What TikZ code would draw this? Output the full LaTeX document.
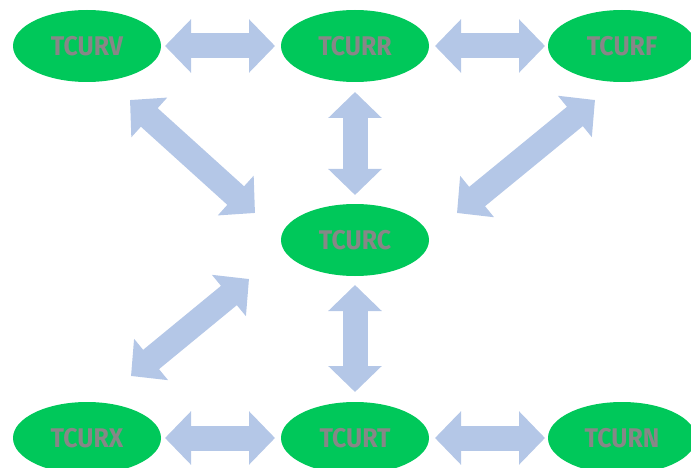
\documentclass[tikz,border=0pt]{standalone}
\usepackage{fontspec}
\setmainfont{Fira Sans}
\usetikzlibrary{arrows.meta,shapes.geometric}
\definecolor{ellgreen}{RGB}{0,200,90}
\definecolor{arrblue}{RGB}{180,199,231}
\definecolor{txtgray}{RGB}{135,135,135}
\newcommand{\lbl}[1]{\scalebox{0.92}[1]{#1}}
\tikzset{
  unit/.style={ellipse, fill=ellgreen, minimum width=148pt, minimum height=72pt, inner sep=0pt,
    text=txtgray, font=\fontsize{27}{27}\selectfont\bfseries},
  fat/.style={arrblue, line width=25pt,
    {Triangle[length=26pt,width=52pt]}-{Triangle[length=26pt,width=52pt]}}
}
\begin{document}
\begin{tikzpicture}[x=1pt,y=-1pt]
\useasboundingbox (0,0) rectangle (691,468);
\node[unit] (V) at (87,46) {\lbl{TCURV}};
\node[unit] (R) at (355,46) {\lbl{TCURR}};
\node[unit] (F) at (622,46) {\lbl{TCURF}};
\node[unit] (C) at (355,240) {\lbl{TCURC}};
\node[unit] (X) at (87,438) {\lbl{TCURX}};
\node[unit] (T) at (355,438) {\lbl{TCURT}};
\node[unit] (N) at (622,438) {\lbl{TCURN}};
\coordinate (a1) at (165,46); \coordinate (b1) at (275,46);
\coordinate (a2) at (435,46); \coordinate (b2) at (545,46);
\coordinate (a3) at (355,92); \coordinate (b3) at (355,195);
\coordinate (a4) at (130,100); \coordinate (b4) at (255,213);
\coordinate (a5) at (595,100); \coordinate (b5) at (457,213);
\coordinate (a6) at (131,376); \coordinate (b6) at (249,279);
\coordinate (a7) at (355,285); \coordinate (b7) at (355,392);
\coordinate (a8) at (165,438); \coordinate (b8) at (275,438);
\coordinate (a9) at (435,438); \coordinate (b9) at (545,438);
\foreach \i in {1,...,9} \draw[fat] (a\i) -- (b\i);
\end{tikzpicture}
\end{document}
